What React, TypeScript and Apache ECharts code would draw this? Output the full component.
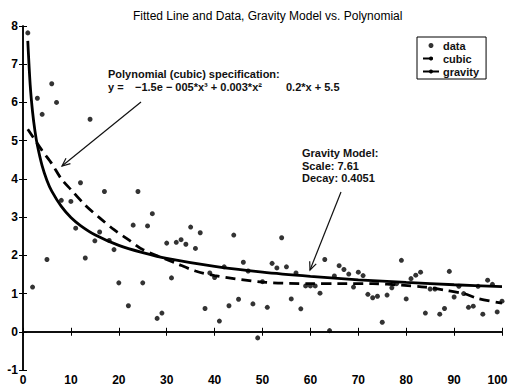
import React, { useEffect, useRef } from "react";
import * as echarts from "echarts";

const titleText = "Fitted Line and Data, Gravity Model vs. Polynomial";
const seriesNames = ["data", "cubic", "gravity"];

const dataX = [1, 2, 3, 4, 5, 6, 7, 8, 10, 11, 12, 13, 14, 15, 16, 17, 18, 19, 20, 22, 23, 24, 25, 26, 27, 28, 29, 30,
  31, 32, 33, 34, 35, 36, 37, 38, 39, 40, 41, 42, 43, 44, 45, 46, 47, 48, 49, 50, 51, 52, 53, 54, 55, 56, 57, 58, 59, 60,
  61, 62, 63, 64, 65, 66, 67, 68, 69, 70, 71, 72, 73, 74, 75, 76, 77, 78, 79, 80, 81, 82, 83, 84, 85, 86, 87, 88, 89, 90,
  91, 92, 93, 94, 95, 96, 97, 98, 99, 100];
const dataY = [7.82, 1.17, 6.11, 5.69, 1.89, 6.49, 6.0, 3.44, 3.41, 2.71, 3.9, 1.93, 5.56, 2.38, 2.61, 3.67, 2.39, 2.15, 1.28, 0.68, 2.79, 3.67, 1.28, 2.77, 3.09, 0.35, 0.49, 2.32,
  1.41, 2.34, 2.41, 2.29, 2.74, 2.18, 2.59, 0.61, 1.54, 1.42, 0.28, 1.7, 0.68, 2.53, 0.85, 1.82, 1.59, 0.73, -0.16, 1.31, 0.64, 1.79, 1.67, 2.46, 1.7, 0.86, 1.54, 0.6, 1.2, 1.2,
  1.2, 1.01, 1.89, 0.03, 1.46, 1.73, 1.63, 1.51, 1.17, 1.56, 1.47, 0.98, 0.89, 0.93, 0.25, 0.96, 1.15, 1.26, 1.87, 0.86, 1.39, 1.48, 1.56, 0.49, 1.12, 1.12, 0.46, 0.61, 1.58, 0.91,
  1.19, 1.0, 0.64, 0.67, 1.19, 0.46, 1.35, 1.24, 0.52, 0.8];

const cubicX = [1, 4, 6, 8, 10, 13, 16, 19, 22, 25, 32, 36, 40, 50, 60, 66, 73, 79, 84, 88, 92, 95, 100];
const cubicY = [5.3, 4.74, 4.4, 4.0, 3.72, 3.31, 2.98, 2.67, 2.41, 2.15, 1.79, 1.59, 1.47, 1.3, 1.26, 1.26, 1.26, 1.22, 1.17, 1.09, 1.0, 0.87, 0.75];

const gravityX = [1, 1.5, 2, 2.5, 3, 4, 5, 6, 8, 10, 12, 15, 20, 25, 30, 40, 50, 60, 70, 80, 90, 100];
const gravityY = [7.61, 6.46, 5.75, 5.25, 4.88, 4.34, 3.96, 3.68, 3.28, 2.99, 2.78, 2.54, 2.26, 2.07, 1.92, 1.71, 1.56, 1.45, 1.36, 1.29, 1.23, 1.18];

const polyTitle = "Polynomial (cubic) specification:";
const polyEqParts = ["y =", "\u22121.5e \u2212 005*x\u00b3 + 0.003*x\u00b2", "0.2*x + 5.5"];
const gravityLines = ["Gravity Model:", "Scale: 7.61", "Decay: 0.4051"];

const FONT = "Liberation Sans, Arial, Helvetica, sans-serif";

function arrow(x1: number, y1: number, x2: number, y2: number) {
  const dx = x2 - x1, dy = y2 - y1;
  const len = Math.sqrt(dx * dx + dy * dy);
  const ux = dx / len, uy = dy / len;
  const hl = 8, hw = 3.5;
  const bx = x2 - ux * hl, by = y2 - uy * hl;
  const px = -uy, py = ux;
  return [
    { type: "line", shape: { x1, y1, x2, y2 }, style: { stroke: "#111", lineWidth: 1.2 } },
    {
      type: "polyline",
      shape: { points: [[bx + px * hw, by + py * hw], [x2, y2], [bx - px * hw, by - py * hw]] },
      style: { stroke: "#111", lineWidth: 1.2, fill: null },
    },
  ];
}

function txt(t: string, x: number, y: number) {
  return {
    type: "text", x, y,
    style: {
      text: t, fontSize: 11, fontWeight: "bold", lineHeight: 11, fill: "#111",
      fontFamily: FONT, textVerticalAlign: "middle",
    },
  };
}

export default function App() {
  const ref = useRef<HTMLDivElement>(null);
  useEffect(() => {
    if (!ref.current) return;
    const chart = echarts.init(ref.current, null, { renderer: "svg" });
    const axisLine = { show: true, lineStyle: { color: "#000", width: 1.5 } };
    const axisTick = { show: true, inside: true, length: 4, lineStyle: { color: "#000", width: 1 } };
    const label = { color: "#000", fontSize: 12, fontWeight: "bold", fontFamily: FONT };
    const option: any = {
      animation: false,
      backgroundColor: "#fff",
      title: {
        text: titleText,
        left: 128,
        top: 5,
        textStyle: { fontSize: 12, fontWeight: "normal", color: "#000", fontFamily: FONT },
      },
      grid: { left: 23, right: 8, top: 26, bottom: 19, containLabel: false, outerBoundsMode: "none" },
      xAxis: [
        {
          type: "value", min: 0, max: 100, interval: 10, position: "bottom",
          axisLine, axisTick,
          axisLabel: {
            ...label, margin: 4,
            formatter: (v: number) => (v === 100 ? "{last|" + v + "}" : String(v)),
            rich: { last: { ...label, padding: [0, 9, 0, 0] } },
          },
          splitLine: { show: false },
        },
        {
          type: "value", min: 0, max: 100, interval: 10, position: "top",
          axisLine, axisTick, axisLabel: { show: false }, splitLine: { show: false },
        },
      ],
      yAxis: [
        {
          type: "value", min: -1, max: 8, interval: 1, position: "left",
          axisLine, axisTick, axisLabel: { ...label, margin: 5 }, splitLine: { show: false },
        },
        {
          type: "value", min: -1, max: 8, interval: 1, position: "right",
          axisLine, axisTick, axisLabel: { show: false }, splitLine: { show: false },
        },
      ],
      legend: {
        data: seriesNames,
        orient: "vertical",
        left: 417,
        top: 37,
        padding: [2, 7, 1, 5],
        itemGap: 0,
        itemWidth: 16,
        itemHeight: 5,
        borderColor: "#000",
        borderWidth: 1,
        backgroundColor: "#fff",
        textStyle: {
          fontSize: 11, fontWeight: "bold", color: "#111", fontFamily: FONT,
          padding: [0, 0, 0, -1], lineHeight: 13,
        },
      },
      series: [
        {
          name: seriesNames[0],
          type: "scatter",
          symbol: "circle",
          symbolSize: 5,
          itemStyle: { color: "#000" },
          data: dataX.map((x, i) => [x, dataY[i]]),
          z: 3,
        },
        {
          name: seriesNames[1],
          type: "line",
          smooth: 0.3,
          showSymbol: false,
          symbol: "none",
          lineStyle: { color: "#000", width: 2.8, type: [10, 6] },
          itemStyle: { color: "#000" },
          data: cubicX.map((x, i) => [x, cubicY[i]]),
          z: 2,
        },
        {
          name: seriesNames[2],
          type: "line",
          smooth: 0.3,
          showSymbol: false,
          symbol: "none",
          lineStyle: { color: "#000", width: 2.8 },
          itemStyle: { color: "#000" },
          data: gravityX.map((x, i) => [x, gravityY[i]]),
          z: 2,
        },
      ],
      graphic: [
        txt(polyTitle, 108, 74),
        txt(polyEqParts[0], 108, 87),
        txt(polyEqParts[1], 135, 87),
        txt(polyEqParts[2], 286, 87),
        ...gravityLines.map((t, i) => txt(t, 302, 153 + i * 12.7)),
        ...arrow(141, 102, 62, 166),
        ...arrow(341, 192, 310, 270),
      ],
    };
    chart.setOption(option);
    return () => chart.dispose();
  }, []);
  return <div ref={ref} style={{ position: "fixed", left: 0, top: 0, width: 510, height: 389 }} />;
}
